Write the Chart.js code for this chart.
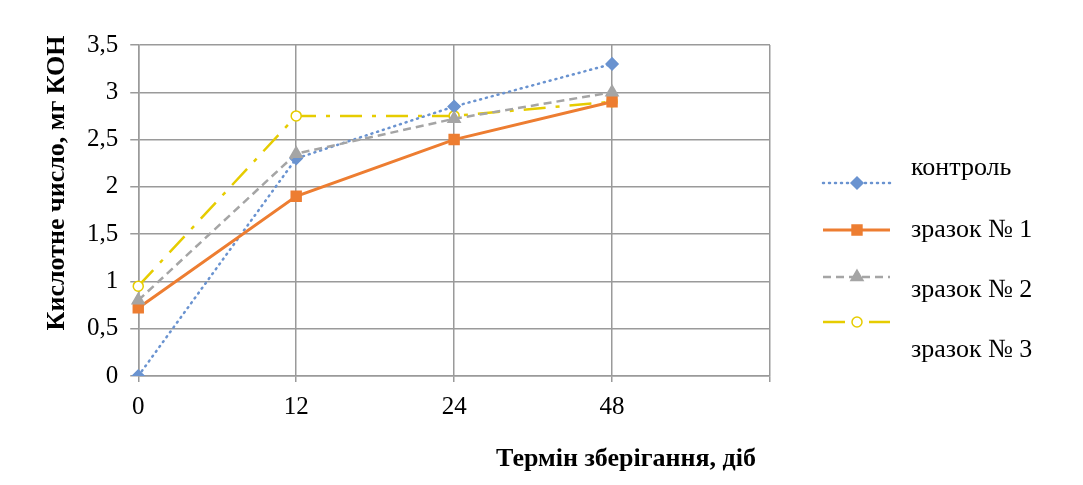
<!DOCTYPE html>
<html lang="uk">
<head>
<meta charset="UTF-8">
<title>Кислотне число</title>
<script src="https://cdn.jsdelivr.net/npm/chart.js"></script>
<style>
  html, body { margin: 0; padding: 0; background: #fff; }
  #wrap { width: 1083px; height: 485px; }
</style>
</head>
<body>
<div id="wrap"><canvas id="kch" width="1083" height="485"></canvas></div>
<script>
// дані з графіка
const terminy = ['0', '12', '24', '48', ''];
const kontrol = [0, 2.3, 2.85, 3.3];
const zrazok1 = [0.72, 1.9, 2.5, 2.9];
const zrazok2 = [0.8, 2.35, 2.72, 3.0];
const zrazok3 = [0.95, 2.75, 2.75, 2.9];
const yTicks = ['0', '0,5', '1', '1,5', '2', '2,5', '3', '3,5'];
const nazvy = ['контроль', 'зразок № 1', 'зразок № 2', 'зразок № 3'];

const shryft = 'Liberation Serif, Times New Roman, serif';

// легенда як в Excel: лінія з маркером, текст праворуч
const legendaPlugin = {
  id: 'legenda',
  afterDraw(chart) {
    const ctx = chart.ctx;
    const lineY = [183, 230, 277, 322];
    const textY = [168, 230, 290, 350];
    chart.data.datasets.forEach((ds, i) => {
      ctx.save();
      ctx.strokeStyle = ds.borderColor;
      ctx.lineWidth = ds.borderWidth;
      ctx.lineCap = ds.borderCapStyle || 'butt';
      ctx.setLineDash(ds.borderDash || []);
      ctx.beginPath();
      ctx.moveTo(823, lineY[i]);
      ctx.lineTo(890, lineY[i]);
      ctx.stroke();
      ctx.setLineDash([]);
      ctx.fillStyle = ds.pointBackgroundColor;
      ctx.strokeStyle = ds.pointBorderColor;
      ctx.lineWidth = 1.5;
      Chart.helpers.drawPoint(ctx, {
        pointStyle: ds.pointStyle,
        radius: ds.pointRadius,
        borderWidth: 1.5
      }, 857, lineY[i]);
      ctx.restore();
      ctx.save();
      ctx.fillStyle = '#000';
      ctx.font = '26px ' + shryft;
      ctx.textBaseline = 'middle';
      ctx.fillText(nazvy[i], 911, textY[i]);
      ctx.restore();
    });
  }
};

// підписи осей (зміщені, як в оригіналі)
const titlesPlugin = {
  id: 'titles',
  afterDraw(chart) {
    const ctx = chart.ctx;
    ctx.save();
    ctx.fillStyle = '#000';
    ctx.font = 'bold 26px ' + shryft;
    ctx.textAlign = 'center';
    ctx.textBaseline = 'middle';
    ctx.fillText('Термін зберігання, діб', 626, 459);
    ctx.translate(57, 183);
    ctx.rotate(-Math.PI / 2);
    ctx.fillText('Кислотне число, мг КОН', 0, 0);
    ctx.restore();
  }
};

function seriya(label, data, color, dash, style, radius, order, fill) {
  return {
    label: label,
    data: data,
    borderColor: color,
    backgroundColor: color,
    pointBackgroundColor: fill || color,
    pointBorderColor: color,
    pointBorderWidth: 1.5,
    borderWidth: 2.5,
    borderDash: dash,
    pointStyle: style,
    pointRadius: radius,
    tension: 0,
    order: order
  };
}

new Chart(document.getElementById('kch').getContext('2d'), {
  type: 'line',
  data: {
    labels: terminy,
    datasets: [
      Object.assign(seriya(nazvy[0], kontrol, '#6A93D0', [1, 5], 'rectRot', 6, 3), { borderCapStyle: 'round' }),
      Object.assign(seriya(nazvy[1], zrazok1, '#ED7D31', [], 'rect', 7, 2), { borderWidth: 3 }),
      seriya(nazvy[2], zrazok2, '#A5A5A5', [8, 5], 'triangle', 7, 1),
      seriya(nazvy[3], zrazok3, '#E6CC00', [22, 10, 4, 10], 'circle', 5, 4, '#FFFFFF')
    ]
  },
  options: {
    responsive: false,
    animation: false,
    layout: { padding: { left: 75, right: 313, top: 45, bottom: 53 } },
    plugins: {
      legend: { display: false },
      tooltip: { enabled: false }
    },
    scales: {
      x: {
        offset: false,
        grid: { color: '#9A9A9A', lineWidth: 1.5, tickLength: 6 },
        border: { color: '#9A9A9A', width: 1.5 },
        ticks: {
          color: '#000',
          font: { family: shryft, size: 25 },
          padding: 10,
          maxRotation: 0
        }
      },
      y: {
        min: 0,
        max: 3.5,
        grid: { color: '#9A9A9A', lineWidth: 1.5, tickLength: 8 },
        border: { color: '#9A9A9A', width: 1.5 },
        ticks: {
          stepSize: 0.5,
          color: '#000',
          font: { family: shryft, size: 25 },
          padding: 12,
          callback: (v, i) => yTicks[i]
        }
      }
    }
  },
  plugins: [legendaPlugin, titlesPlugin]
});
</script>
</body>
</html>
